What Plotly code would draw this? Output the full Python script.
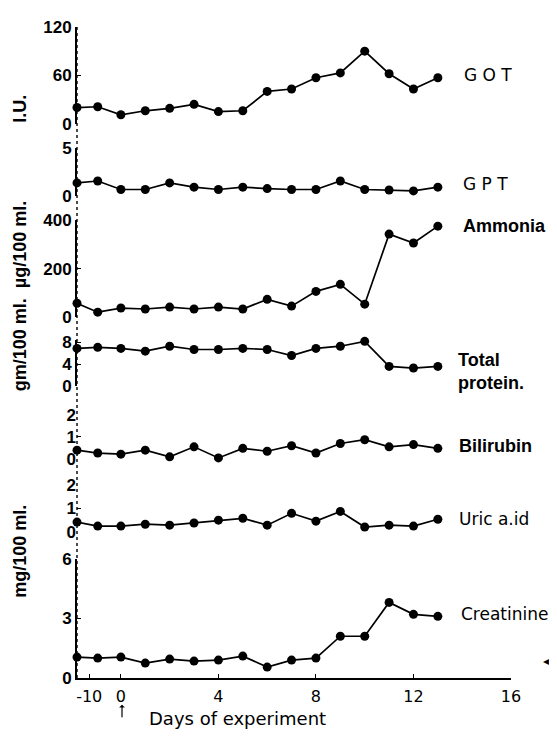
import plotly.graph_objects as go
from plotly.subplots import make_subplots

# Position of each sample on the (broken) day axis: two pre-experiment controls, then days 0..13
day_pos = [-1.8, -0.95, 0, 1, 2, 3, 4, 5, 6, 7, 8, 9, 10, 11, 12, 13]

got = [20, 21, 11, 16, 19, 24, 15, 16, 40, 43, 57, 63, 90, 62, 43, 57]
gpt = [1.35, 1.55, 0.65, 0.65, 1.35, 0.9, 0.65, 0.9, 0.75, 0.65, 0.65, 1.55, 0.65, 0.6, 0.5, 0.9]
ammonia = [57, 20, 37, 33, 41, 33, 41, 33, 73, 45, 106, 135, 53, 343, 306, 376]
total_protein = [6.9, 7.1, 6.9, 6.4, 7.3, 6.7, 6.7, 6.9, 6.7, 5.6, 6.9, 7.3, 8.2, 3.6, 3.3, 3.6]
bilirubin = [0.4, 0.27, 0.22, 0.4, 0.1, 0.55, 0.05, 0.48, 0.35, 0.6, 0.27, 0.7, 0.87, 0.55, 0.65, 0.48]
uric_acid = [0.42, 0.25, 0.25, 0.33, 0.29, 0.38, 0.5, 0.58, 0.29, 0.79, 0.46, 0.87, 0.21, 0.29, 0.25, 0.54]
creatinine = [1.05, 1.0, 1.05, 0.75, 0.95, 0.85, 0.9, 1.1, 0.55, 0.9, 1.0, 2.1, 2.1, 3.8, 3.2, 3.1]

series = [got, gpt, ammonia, total_protein, bilirubin, uric_acid, creatinine]
series_names = ["GOT", "GPT", "Ammonia", "Total protein", "Bilirubin", "Uric acid", "Creatinine"]
panel_labels = ["G O T", "G P T", "Ammonia", "Total<br>protein.", "Bilirubin", "Uric a.id", "Creatinine"]
y_ranges = [[0, 120], [0, 5], [0, 400], [0, 8.5], [0, 2], [0, 2], [0, 6]]
y_ticks = [[0, 60, 120], [0, 5], [0, 200, 400], [0, 4, 8], [0, 1, 2], [0, 1, 2], [0, 3, 6]]
x_tickvals = [-1.3, 0, 4, 8, 12, 16]
x_ticktext = ["-10", "0", "4", "8", "12", "16"]

# layout geometry: target screen pixels, page body adds an 8px offset
OFF = 8
W, H = 557, 736
SCR_L, SCR_R, SCR_T, SCR_B = 77, 511, 18, 678
L = SCR_L - OFF
T = SCR_T - OFF
R = W - (SCR_R - OFF)
B = H - (SCR_B - OFF)
PH = SCR_B - SCR_T
PW = SCR_R - SCR_L
def py(p):
    return (SCR_B - p) / PH
def px(p):
    return (p - SCR_L) / PW

panel_px = [(116, 18), (189, 141), (312, 214), (382, 335), (456, 411), (530, 482), (678, 557)]
solid_axis = [True, True, True, True, False, False, True]
label_pos = [(462, 67), (461, 177), (461, 220), (456, 367), (457, 443), (457, 517), (459, 613)]
label_bold = [False, False, True, True, True, False, False]

fig = make_subplots(rows=7, cols=1, shared_xaxes=True, vertical_spacing=0.01)

for i, ys in enumerate(series):
    fig.add_trace(go.Scatter(
        x=day_pos, y=ys, mode="lines+markers", name=series_names[i],
        line=dict(color="black", width=1.7),
        marker=dict(color="black", size=9),
        cliponaxis=False, showlegend=False), row=i + 1, col=1)

tickfont = dict(family="Liberation Sans", size=17, color="black", weight="bold")
for i in range(7):
    b, t = panel_px[i]
    key = "yaxis" if i == 0 else f"yaxis{i+1}"
    fig.layout[key].update(
        domain=[py(b), py(t)], range=y_ranges[i], tickvals=y_ticks[i],
        ticks="inside", ticklen=4, tickwidth=1.3, tickcolor="black",
        showline=solid_axis[i], linecolor="black", linewidth=1.8,
        showgrid=False, zeroline=False, tickfont=tickfont, ticklabelstandoff=0)
    xkey = "xaxis" if i == 0 else f"xaxis{i+1}"
    fig.layout[xkey].update(range=[-1.8, 16], showgrid=False, zeroline=False,
                            showticklabels=False, showline=False, ticks="")

fig.layout["xaxis7"].update(
    showline=True, linecolor="black", linewidth=1.8, ticks="inside", ticklen=4,
    tickcolor="black", tickvals=x_tickvals, ticktext=x_ticktext, showticklabels=True,
    tickfont=dict(family="DejaVu Sans", size=16, color="black"), ticklabelstandoff=3)

annotations = []
for i, (lx, ly) in enumerate(label_pos):
    annotations.append(dict(
        x=px(lx), y=py(ly), xref="paper", yref="paper", text=panel_labels[i],
        showarrow=False, xanchor="left", yanchor="middle", align="left",
        font=dict(family="DejaVu Sans" if not label_bold[i] else "Liberation Sans",
                  size=17 if not label_bold[i] else 18, color="black",
                  weight="bold" if label_bold[i] else "normal")))

ytitle_font = dict(family="Liberation Sans", size=18, color="black", weight="bold")
for text, yc in [("I.U.", 101), ("gm/100 ml.  µg/100 ml.", 291), ("mg/100 ml.", 550)]:
    annotations.append(dict(x=px(20), y=py(yc), xref="paper", yref="paper", text=text,
                            showarrow=False, textangle=-90, xanchor="center", yanchor="middle",
                            borderpad=0, font=ytitle_font))

annotations.append(dict(x=px(237), y=py(731), xref="paper", yref="paper",
                        text="Days of experiment", showarrow=False, borderpad=0,
                        font=dict(family="DejaVu Sans", size=18, color="black")))
# small upward arrow marking day 0
annotations.append(dict(x=px(122), y=py(705), xref="paper", yref="paper", text="",
                        showarrow=True, ax=0, ay=14, arrowhead=1, arrowsize=0.8,
                        arrowwidth=1.2, arrowcolor="black"))
annotations.append(dict(x=px(551), y=py(670), xref="paper", yref="paper", text="◂",
                        showarrow=False, font=dict(family="DejaVu Sans", size=12, color="black")))

shapes = [dict(type="line", xref="paper", yref="paper", x0=0, x1=0, y0=0, y1=1,
               line=dict(color="black", width=1.4, dash="dot"), layer="below")]

fig.update_layout(
    width=W, height=H, margin=dict(l=L, r=R, t=T, b=B),
    paper_bgcolor="white", plot_bgcolor="white",
    annotations=annotations, shapes=shapes, showlegend=False)

fig.write_html("out.html")
